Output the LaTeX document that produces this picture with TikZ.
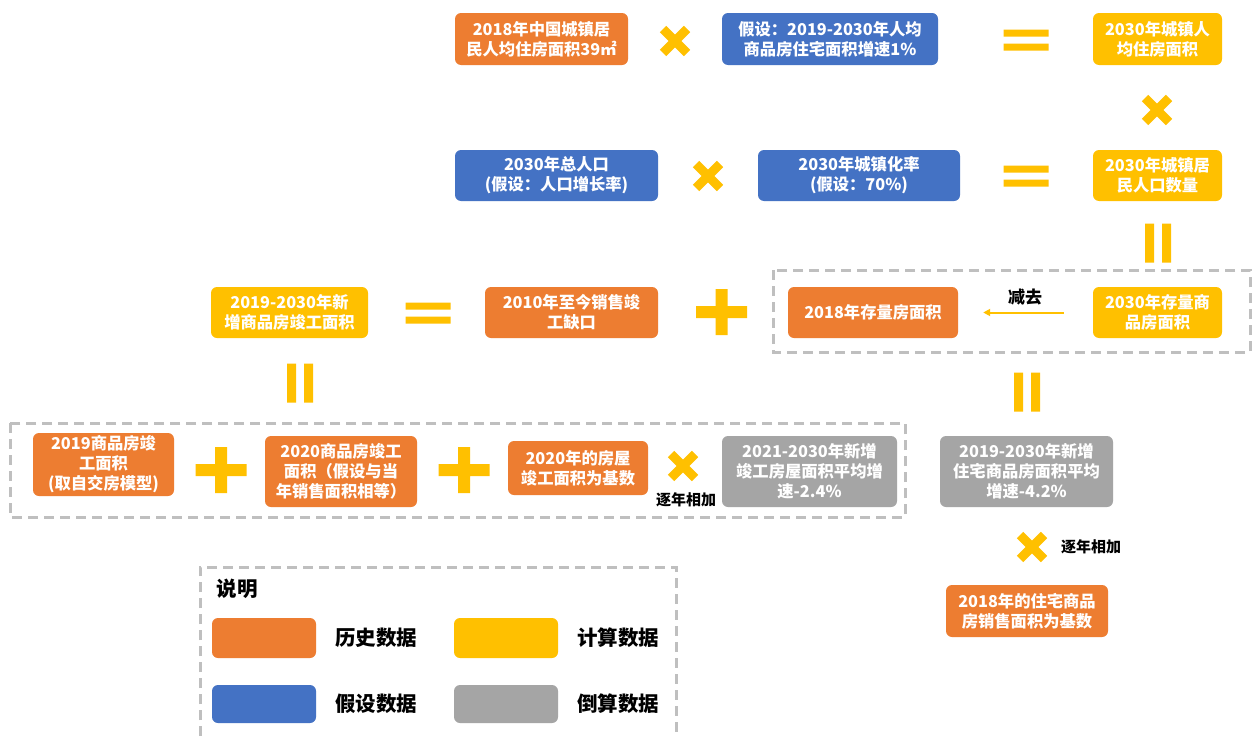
\documentclass[tikz,border=0pt]{standalone}
\usepackage{fontspec}
\setmainfont{Noto Sans CJK SC}
\usetikzlibrary{arrows.meta}
\definecolor{cOr}{HTML}{ED7D31}
\definecolor{cBl}{HTML}{4472C4}
\definecolor{cYe}{HTML}{FFC000}
\definecolor{cGr}{HTML}{A5A5A5}
\definecolor{cDash}{HTML}{BFBFBF}
\begin{document}
\begin{tikzpicture}[x=1pt,y=-1pt,
  box/.style={rounded corners=6pt, text=white, align=center, inner sep=1pt,
    font=\fontsize{16.3}{20}\selectfont\bfseries},
  obox/.style={box, fill=cOr},
  bbox/.style={box, fill=cBl},
  ybox/.style={box, fill=cYe},
  gbox/.style={box, fill=cGr},
  swatch/.style={rounded corners=6pt, minimum width=104pt, minimum height=40pt, inner sep=0pt},
  legtext/.style={font=\fontsize{20.5}{24}\selectfont\bfseries, text=black},
  note/.style={font=\fontsize{15}{18}\selectfont\bfseries, text=black},
  dashbox/.style={draw=cDash, line width=3pt, dash pattern=on 10pt off 6pt},
  mulsym/.pic={\draw[cYe, line width=9pt] (-12,-12)--(12,12) (-12,12)--(12,-12);},
  eqsym/.pic={\fill[cYe] (-22.5,-10.5) rectangle (22.5,-3.5) (-22.5,3.5) rectangle (22.5,10.5);},
  plussym/.pic={\fill[cYe] (-25.5,-6) rectangle (25.5,6) (-6,-23) rectangle (6,23);},
  vparsym/.pic={\fill[cYe] (-13,-19.5) rectangle (-4,19.5) (4,-19.5) rectangle (13,19.5);}
]
\useasboundingbox[fill=white] (0,0) rectangle (1252,736);

% dashed groups
\draw[dashbox] (773,270) rectangle (1250,352);
\draw[dashbox] (10,423) rectangle (905,517);
\draw[dashbox] (200,736) -- (200,567) -- (676,567) -- (676,736);

% row 1
\node[obox, minimum width=173pt, minimum height=52pt] (a1) at (541.5,39) {2018年中国城镇居\\民人均住房面积39㎡};
\node[bbox, minimum width=216pt, minimum height=52pt] (a2) at (830,39) {假设：2019-2030年人均\\商品房住宅面积增速1\%};
\node[ybox, minimum width=129pt, minimum height=52pt] (a3) at (1157.5,39) {2030年城镇人\\均住房面积};
\pic at (675,41) {mulsym};
\pic at (1026,40) {eqsym};
\pic at (1157,110) {mulsym};

% row 2
\node[bbox, minimum width=203pt, minimum height=51pt] (b1) at (556.5,175.5) {2030年总人口\\(假设：人口增长率)};
\node[bbox, minimum width=202pt, minimum height=51pt] (b2) at (859,175.5) {2030年城镇化率\\(假设：70\%)};
\node[ybox, minimum width=129pt, minimum height=51pt] (b3) at (1157.5,175.5) {2030年城镇居\\民人口数量};
\pic at (708,176) {mulsym};
\pic at (1026,176) {eqsym};
\pic at (1158,243) {vparsym};

% row 3
\node[ybox, minimum width=157pt, minimum height=51pt] (c1) at (289.5,312.5) {2019-2030年新\\增商品房竣工面积};
\node[obox, minimum width=173pt, minimum height=51pt] (c2) at (571.5,312.5) {2010年至今销售竣\\工缺口};
\node[obox, minimum width=170pt, minimum height=51pt] (c3) at (873,312.5) {2018年存量房面积};
\node[ybox, minimum width=129pt, minimum height=51pt] (c4) at (1157.5,312.5) {2030年存量商\\品房面积};
\pic at (428,313) {eqsym};
\pic at (721.5,312) {plussym};
\draw[cYe, line width=2pt, -{Triangle[length=7pt,width=7pt]}, shorten <=29pt, shorten >=25pt] (c4.west) -- (c3.east);
\node[note, font=\fontsize{17}{20}\selectfont\bfseries] (minus) at (1025,297) {减去};
\pic at (1027,392) {vparsym};
\pic at (300,383) {vparsym};

% row 4
\node[obox, minimum width=141pt, minimum height=63pt] (d1) at (103.5,464.5) {2019商品房竣\\工面积\\(取自交房模型)};
\node[obox, minimum width=152pt, minimum height=71pt] (d2) at (341,471.5) {2020商品房竣工\\面积（假设与当\\年销售面积相等）};
\node[obox, minimum width=140pt, minimum height=54pt] (d3) at (578,468) {2020年的房屋\\竣工面积为基数};
\node[gbox, minimum width=175pt, minimum height=71pt] (d4) at (809.5,471.5) {2021-2030年新增\\竣工房屋面积平均增\\速-2.4\%};
\pic at (221,470) {plussym};
\pic at (464,470) {plussym};
\pic at (683,466) {mulsym};
\node[note] (add1) at (686,500) {逐年相加};

% right column
\node[gbox, minimum width=173pt, minimum height=71pt] (e1) at (1026.5,471.5) {2019-2030年新增\\住宅商品房面积平均\\增速-4.2\%};
\pic at (1032,547) {mulsym};
\node[note] (add2) at (1091,547) {逐年相加};
\node[obox, minimum width=162pt, minimum height=52pt] (e2) at (1027,611) {2018年的住宅商品\\房销售面积为基数};

% legend
\node[legtext] (legtitle) at (237,589) {说明};
\node[swatch, fill=cOr] (l1) at (264,638) {};
\node[legtext] (l1t) at (376,638) {历史数据};
\node[swatch, fill=cYe] (l2) at (506,638) {};
\node[legtext] (l2t) at (618,638) {计算数据};
\node[swatch, fill=cBl, minimum height=38pt] (l3) at (264,704) {};
\node[legtext] (l3t) at (376,704) {假设数据};
\node[swatch, fill=cGr, minimum height=38pt] (l4) at (506,704) {};
\node[legtext] (l4t) at (618,704) {倒算数据};
\end{tikzpicture}
\end{document}
